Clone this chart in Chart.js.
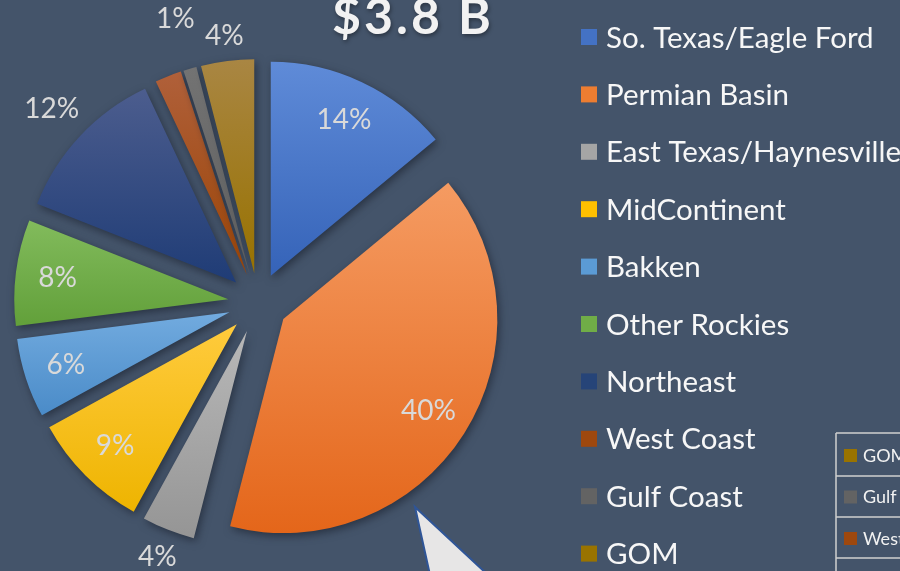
<!DOCTYPE html>
<html>
<head>
<meta charset="utf-8">
<script src="https://cdn.jsdelivr.net/npm/chart.js@4.4.1/dist/chart.umd.min.js"></script>
<style>
  html, body { margin: 0; padding: 0; background: #44546A; overflow: hidden; }
  #pieChart { display: block; }
</style>
</head>
<body>
<canvas id="pieChart" width="900" height="571"></canvas>
<script>
// chart data
const regions = ["So. Texas/Eagle Ford", "Permian Basin", "East Texas/Haynesville", "MidContinent",
  "Bakken", "Other Rockies", "Northeast", "West Coast", "Gulf Coast", "GOM"];
const shares = [14, 40, 4, 9, 6, 8, 12, 2, 1, 4];
const shareLabels = ["14%", "40%", "4%", "9%", "6%", "8%", "12%", "", "1%", "4%"];
const labelOutside = [false, false, true, false, false, false, true, false, true, true];
const titleText = "$3.8 B";
const tableRows = ["GOM", "Gulf Coast", "West Coast"];
const tableColors = ["#997300", "#636363", "#9E480E"];

// slice colours: light (top) -> dark (bottom)
const baseColors = ["#4472C4", "#ED7D31", "#A5A5A5", "#FFC000", "#5B9BD5", "#70AD47", "#264478", "#9E480E", "#636363", "#997300"];
const lightColors = ["#5F8BD8", "#F59B62", "#B8B8B8", "#FFCB3D", "#72ABDF", "#82BB5C", "#4C5D8E", "#B0603A", "#737373", "#A98643"];
const darkColors = ["#3563B8", "#E4661A", "#959595", "#EEB400", "#4A8BC8", "#62A03A", "#1F3C76", "#9A4406", "#5E5E5E", "#987200"];

// exploded distance and radius of every slice, in px
const EXPLODE = 30;
const SLICE_RADIUS = 214;

const sliceAngles = (i) => {
  const total = shares.reduce((a, b) => a + b, 0);
  let before = 0;
  for (let k = 0; k < i; k++) before += shares[k];
  const a0 = -Math.PI / 2 + (2 * Math.PI * before) / total;
  const a1 = a0 + (2 * Math.PI * shares[i]) / total;
  return [a0, a1];
};

const sliceGradient = (context) => {
  const i = context.dataIndex;
  const chart = context.chart;
  const area = chart.chartArea;
  if (!area || i === undefined) return baseColors[i] || "#888";
  const cy = (area.top + area.bottom) / 2;
  const [a0, a1] = sliceAngles(i);
  const mid = (a0 + a1) / 2;
  const r = SLICE_RADIUS;
  const oy = cy + Math.sin(mid) * EXPLODE;
  const ys = [oy, oy + r * Math.sin(a0), oy + r * Math.sin(a1)];
  [Math.PI / 2, 3 * Math.PI / 2, -Math.PI / 2].forEach((a) => {
    if (a > a0 && a < a1) ys.push(oy + r * Math.sin(a));
  });
  const top = Math.min(...ys);
  const bottom = Math.max(...ys);
  const g = chart.ctx.createLinearGradient(0, top, 0, bottom);
  g.addColorStop(0, lightColors[i]);
  g.addColorStop(1, darkColors[i]);
  return g;
};

// explode: move each arc's own centre out along its middle angle
const explodePlugin = {
  id: "explode",
  beforeDatasetsDraw(chart) {
    const area = chart.chartArea;
    const cx = (area.left + area.right) / 2;
    const cy = (area.top + area.bottom) / 2;
    chart.getDatasetMeta(0).data.forEach((arc) => {
      const mid = (arc.startAngle + arc.endAngle) / 2;
      arc.x = cx + Math.cos(mid) * EXPLODE;
      arc.y = cy + Math.sin(mid) * EXPLODE;
    });
  },
};

// soft shadow under the slices
const shadowPlugin = {
  id: "sliceShadow",
  beforeDatasetsDraw(chart) {
    const ctx = chart.ctx;
    ctx.save();
    ctx.shadowColor = "rgba(22, 28, 40, 0.6)";
    ctx.shadowBlur = 9;
    ctx.shadowOffsetX = 2;
    ctx.shadowOffsetY = 3;
  },
  afterDatasetsDraw(chart) {
    chart.ctx.restore();
  },
};

// percentage labels, title, legend, table and callout
const extrasPlugin = {
  id: "extras",
  afterDraw(chart) {
    const ctx = chart.ctx;
    const meta = chart.getDatasetMeta(0);

    ctx.save();
    ctx.font = "28px Lato, 'Open Sans', sans-serif";
    ctx.fillStyle = "#D9D9D9";
    ctx.textAlign = "center";
    ctx.textBaseline = "middle";

    const placed = [];
    meta.data.forEach((arc, i) => {
      if (!shareLabels[i]) return;
      const mid = (arc.startAngle + arc.endAngle) / 2;
      const ux = Math.cos(mid);
      const uy = Math.sin(mid);
      const w = ctx.measureText(shareLabels[i]).width;
      let r = 172;
      if (labelOutside[i]) {
        const half = (w / 2) * Math.abs(ux) + 13 * Math.abs(uy);
        r = SLICE_RADIUS + half + 10;
      }
      placed.push({ i, arc, ux, uy, w, r, outside: labelOutside[i] });
    });

    // push crowded outside labels outward until they clear the next one
    const box = (p) => ({
      x: p.arc.x + p.ux * p.r, y: p.arc.y + p.uy * p.r, w: p.w, h: 26,
    });
    const overlaps = (a, b) => Math.abs(a.x - b.x) < (a.w + b.w) / 2 + 10 && Math.abs(a.y - b.y) < (a.h + b.h) / 2 + 4;
    for (let k = 0; k < placed.length - 1; k++) {
      const p = placed[k];
      const q = placed[k + 1];
      if (!p.outside || !q.outside) continue;
      let guard = 0;
      while (overlaps(box(p), box(q)) && guard < 40) {
        p.r += 2;
        guard++;
      }
    }
    placed.forEach((p) => {
      const b = box(p);
      ctx.fillText(shareLabels[p.i], b.x, b.y);
    });

    // title
    ctx.font = "bold 50px Lato, 'Open Sans', sans-serif";
    ctx.fillStyle = "#F2F2F2";
    ctx.textBaseline = "alphabetic";
    ctx.shadowColor = "rgba(0,0,0,0.4)";
    ctx.shadowBlur = 4;
    ctx.shadowOffsetX = 1;
    ctx.shadowOffsetY = 2;
    ctx.letterSpacing = "3px";
    ctx.fillText(titleText, 413, 34);
    ctx.letterSpacing = "0px";
    ctx.shadowColor = "transparent";

    // legend
    ctx.textAlign = "left";
    ctx.textBaseline = "middle";
    ctx.font = "29.5px Lato, 'Open Sans', sans-serif";
    regions.forEach((name, i) => {
      const y = 37 + i * 57.4;
      ctx.fillStyle = baseColors[i];
      ctx.fillRect(581, y - 8, 16, 16);
      ctx.fillStyle = "#F7F7F7";
      ctx.fillText(name, 606, y + 1);
    });

    // partial table
    ctx.strokeStyle = "#D0D0D0";
    ctx.lineWidth = 1.5;
    ctx.beginPath();
    ctx.moveTo(836, 433);
    ctx.lineTo(836, 571);
    [433, 476, 517, 558].forEach((y) => {
      ctx.moveTo(836, y);
      ctx.lineTo(900, y);
    });
    ctx.stroke();
    ctx.font = "18px Lato, 'Open Sans', sans-serif";
    tableRows.forEach((name, i) => {
      const y = 455 + i * 41.5;
      ctx.fillStyle = tableColors[i];
      ctx.fillRect(844, y - 6, 13, 13);
      ctx.fillStyle = "#F2F2F2";
      ctx.fillText(name, 863, y + 1);
    });

    // callout pointer
    ctx.beginPath();
    ctx.moveTo(415, 507);
    ctx.lineTo(430, 575);
    ctx.lineTo(488, 575);
    ctx.closePath();
    ctx.fillStyle = "#E7E6E6";
    ctx.fill();
    ctx.strokeStyle = "#2F5597";
    ctx.lineWidth = 2;
    ctx.stroke();
    ctx.restore();
  },
};

new Chart(document.getElementById("pieChart"), {
  type: "pie",
  data: {
    labels: regions,
    datasets: [
      {
        data: shares,
        backgroundColor: sliceGradient,
        borderWidth: 0,
        radius: SLICE_RADIUS,
        clip: false,
      },
    ],
  },
  options: {
    responsive: false,
    animation: false,
    events: [],
    layout: { padding: { left: 0, top: 36, right: 384, bottom: 1 } },
    plugins: {
      legend: { display: false },
      tooltip: { enabled: false },
      title: { display: false },
    },
  },
  plugins: [explodePlugin, shadowPlugin, extrasPlugin],
});
</script>
</body>
</html>
